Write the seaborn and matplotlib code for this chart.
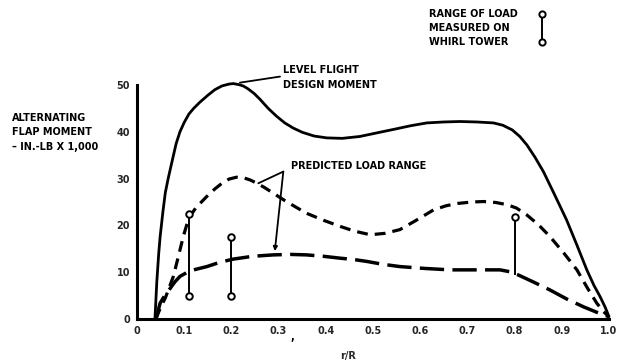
import matplotlib
matplotlib.use("Agg")
import matplotlib.pyplot as plt
import seaborn as sns
import pandas as pd

# ---- data ----
design_r = [0.038, 0.042, 0.046, 0.049, 0.055, 0.060, 0.066, 0.075, 0.083, 0.091, 0.100,
            0.110, 0.120, 0.133, 0.150, 0.165, 0.180, 0.195, 0.204, 0.215, 0.225, 0.235,
            0.248, 0.261, 0.278, 0.296, 0.313, 0.331, 0.350, 0.375, 0.402, 0.435, 0.472,
            0.505, 0.543, 0.580, 0.614, 0.650, 0.684, 0.720, 0.755, 0.775, 0.795, 0.811,
            0.826, 0.843, 0.861, 0.885, 0.910, 0.932, 0.953, 0.968, 0.981, 0.992, 1.0]
design_m = [0.0, 8.0, 14.0, 17.6, 23.0, 27.0, 30.0, 34.0, 37.5, 40.0, 42.0,
            43.8, 45.0, 46.3, 47.8, 49.0, 49.8, 50.2, 50.3, 50.1, 49.8, 49.2,
            48.2, 46.9, 45.0, 43.3, 41.9, 40.8, 39.9, 39.1, 38.7, 38.6, 39.0,
            39.7, 40.5, 41.3, 41.9, 42.1, 42.2, 42.1, 41.9, 41.4, 40.4, 39.0,
            37.2, 34.6, 31.5, 26.5, 21.2, 15.8, 10.5, 7.2, 4.8, 2.5, 0.5]

upper_r = [0.040, 0.050, 0.060, 0.077, 0.088, 0.098, 0.105, 0.112, 0.125, 0.148, 0.165,
           0.180, 0.195, 0.211, 0.228, 0.240, 0.254, 0.270, 0.290, 0.310, 0.335, 0.359,
           0.395, 0.430, 0.460, 0.494, 0.525, 0.557, 0.590, 0.628, 0.655, 0.680, 0.710,
           0.734, 0.760, 0.785, 0.804, 0.825, 0.850, 0.875, 0.905, 0.932, 0.955, 0.974,
           0.988, 1.0]
upper_m = [0.0, 2.5, 4.5, 9.1, 13.5, 17.6, 20.0, 21.9, 23.8, 26.2, 27.8,
           29.0, 29.9, 30.3, 30.1, 29.7, 29.0, 28.1, 26.8, 25.5, 24.0, 22.6,
           21.1, 19.8, 18.8, 18.0, 18.3, 19.1, 21.0, 23.3, 24.2, 24.7, 25.0,
           25.1, 24.9, 24.4, 23.7, 22.3, 20.2, 17.6, 14.0, 10.5, 6.5, 3.4,
           1.6, 0.5]

lower_r = [0.040, 0.049, 0.060, 0.070, 0.080, 0.091, 0.105, 0.120, 0.148, 0.175, 0.204,
           0.245, 0.289, 0.325, 0.359, 0.395, 0.430, 0.460, 0.487, 0.520, 0.557, 0.610,
           0.663, 0.715, 0.769, 0.790, 0.808, 0.840, 0.875, 0.910, 0.946, 0.975, 1.0]
lower_m = [0.0, 3.4, 5.2, 6.5, 7.9, 9.1, 9.9, 10.5, 11.2, 12.1, 12.8,
           13.4, 13.7, 13.8, 13.7, 13.4, 13.0, 12.7, 12.3, 11.7, 11.2, 10.8,
           10.5, 10.5, 10.5, 10.1, 9.4, 7.9, 6.2, 4.3, 2.6, 1.4, 0.5]

meas_r = [0.11, 0.20, 0.80]
meas_lo = [4.9, 4.9, 9.4]
meas_hi = [22.4, 17.6, 21.9]
meas_lo_circle = [True, True, False]

xticks = [0, 0.1, 0.2, 0.3, 0.4, 0.5, 0.6, 0.7, 0.8, 0.9, 1.0]
xticklabels = ["0", "0.1", "0.2", "0.3", "0.4", "0.5", "0.6", "0.7", "0.8", "0.9", "1.0"]
yticks = [0, 10, 20, 30, 40, 50]

sns.set_theme(style="white")
plt.rcParams['font.family'] = ['DejaVu Sans']

fig = plt.figure(figsize=(6.19, 3.63), dpi=100)
ax = fig.add_axes([137/619, 1 - 319/363, (609 - 137)/619, (319 - 85)/363])

df_d = pd.DataFrame({"r": design_r, "m": design_m})
df_u = pd.DataFrame({"r": upper_r, "m": upper_m})
df_l = pd.DataFrame({"r": lower_r, "m": lower_m})

sns.lineplot(data=df_d, x="r", y="m", ax=ax, color="black", lw=2.0, sort=False)
ax.lines[-1].set_clip_on(False)
ax.lines[-1].set_solid_joinstyle("round")
sns.lineplot(data=df_u, x="r", y="m", ax=ax, color="black", lw=2.3, sort=False)
ax.lines[-1].set_dashes([3.4, 2.2])
sns.lineplot(data=df_l, x="r", y="m", ax=ax, color="black", lw=2.5, sort=False)
ax.lines[-1].set_dashes([7.0, 2.4])

# measured ranges
ax.vlines(meas_r, meas_lo, meas_hi, color="black", lw=1.4, zorder=4)
df_top = pd.DataFrame({"r": meas_r, "m": meas_hi})
df_bot = pd.DataFrame({"r": [r for r, c in zip(meas_r, meas_lo_circle) if c],
                       "m": [m for m, c in zip(meas_lo, meas_lo_circle) if c]})
for d in (df_top, df_bot):
    sns.scatterplot(data=d, x="r", y="m", ax=ax, s=22, facecolor="white",
                    edgecolor="black", linewidth=1.4, zorder=5)

ax.set_xlim(0, 1.0)
ax.set_ylim(0, 50)
ax.set_xticks(xticks)
ax.set_xticklabels(xticklabels)
ax.set_yticks(yticks)
for s in ["top", "right"]:
    ax.spines[s].set_visible(False)
for s in ["left", "bottom"]:
    ax.spines[s].set_linewidth(2.2)
    ax.spines[s].set_color("black")
ax.tick_params(axis="both", direction="in", length=3, width=1.2, color="black",
               labelsize=7, pad=5)
for lab in ax.get_xticklabels() + ax.get_yticklabels():
    lab.set_fontweight("bold")
ax.set_xlabel("r/R", fontsize=7, fontweight="bold")
ax.xaxis.set_label_coords(0.447, -0.135)
ax.set_ylabel("")

bold = dict(fontsize=7, fontweight="bold", color="black")

# annotations
ax.plot([0.218, 0.303], [50.5, 51.8], color="black", lw=1.3, clip_on=False)
ax.text(0.309, 53.2, "LEVEL FLIGHT", ha="left", va="center", **bold, clip_on=False)
ax.text(0.309, 49.9, "DESIGN MOMENT", ha="left", va="center", **bold, clip_on=False)

ax.text(0.326, 32.6, "PREDICTED LOAD RANGE", ha="left", va="center", **bold)
ax.plot([0.257, 0.31], [29.0, 31.5], color="black", lw=1.3)
ax.annotate("", xy=(0.292, 14.5), xytext=(0.31, 31.5),
            arrowprops=dict(arrowstyle="-|>", color="black", lw=1.3,
                            mutation_scale=6, shrinkA=0, shrinkB=0))
ax.text(0.33, -3.8, ",", ha="center", va="center", **bold, clip_on=False)

# legend-like key
ax.text(0.619, 65.1, "RANGE OF LOAD", ha="left", va="center", **bold, clip_on=False)
ax.text(0.619, 62.1, "MEASURED ON", ha="left", va="center", **bold, clip_on=False)
ax.text(0.619, 59.1, "WHIRL TOWER", ha="left", va="center", **bold, clip_on=False)
ax.plot([0.858, 0.858], [59.1, 65.1], color="black", lw=1.4, clip_on=False)
ax.plot([0.858, 0.858], [59.1, 65.1], ls="none", marker="o", ms=4.5,
        mfc="white", mec="black", mew=1.4, clip_on=False)

# y-axis title
fig.text(12/619, 1 - 118/363, "ALTERNATING", ha="left", va="center", **bold)
fig.text(12/619, 1 - 132/363, "FLAP MOMENT", ha="left", va="center", **bold)
fig.text(12/619, 1 - 147/363, "– IN.-LB X 1,000", ha="left", va="center", **bold)

fig.savefig("out.png", dpi=100)
